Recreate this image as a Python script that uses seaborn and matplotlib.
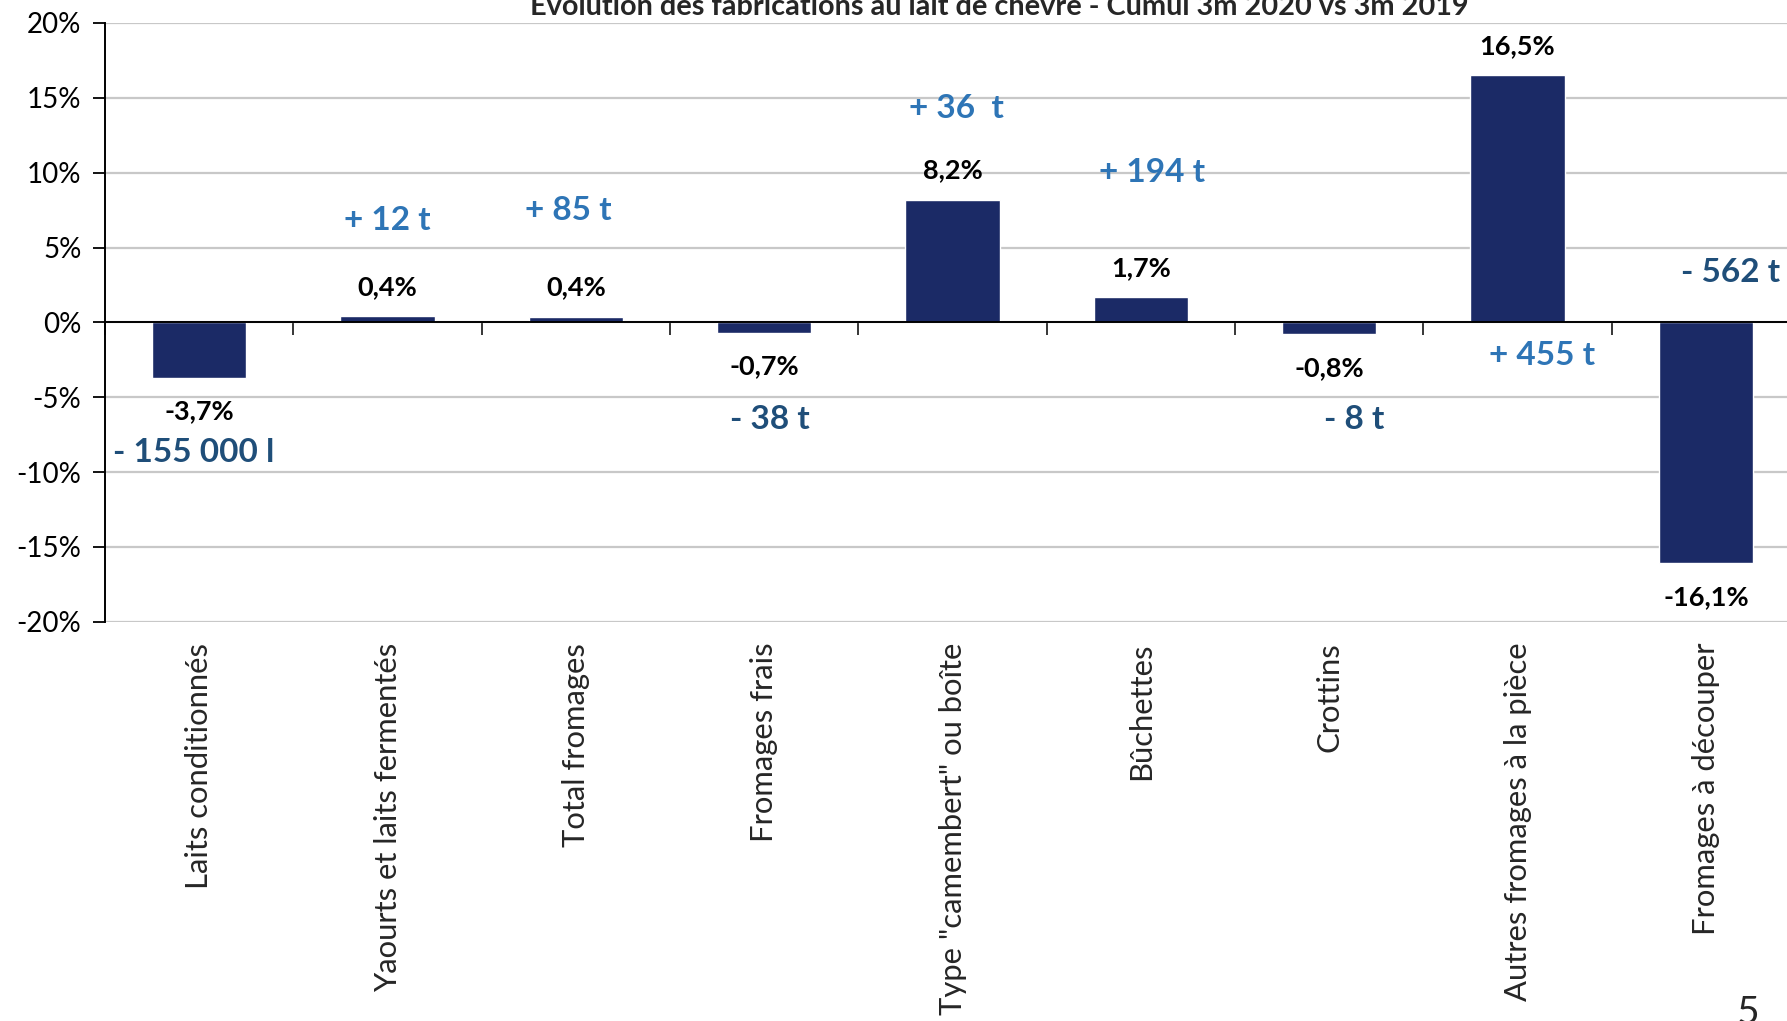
import pandas as pd
import matplotlib
matplotlib.use("Agg")
import matplotlib.pyplot as plt
import seaborn as sns

# data
categories = [
    "Laits conditionnés",
    "Yaourts et laits fermentés",
    "Total fromages",
    "Fromages frais",
    'Type "camembert" ou boîte',
    "Bûchettes",
    "Crottins",
    "Autres fromages à la pièce",
    "Fromages à découper",
]
evolution_pct = [-3.7, 0.42, 0.38, -0.7, 8.2, 1.7, -0.8, 16.5, -16.1]
volume_labels = ["- 155 000 l", "+ 12 t", "+ 85 t", "- 38 t", "+ 36  t",
                 "+ 194 t", "- 8 t", "+ 455 t", "- 562 t"]
y_ticks = [-20, -15, -10, -5, 0, 5, 10, 15, 20]

# where the volume call-outs sit (data coords), kept apart from the values
volume_x_shift = [-0.03, 0.0, -0.04, 0.03, 0.02, 0.06, 0.13, 0.13, 0.13]
volume_y = [-8.7, 6.8, 7.5, -6.5, 14.3, 10.0, -6.5, -2.2, 3.3]

BAR = "#1B2A66"
LIGHT = "#2E75B6"
DARK = "#1F4E79"

sns.set_style("white")
plt.rcParams["font.family"] = ["Lato", "DejaVu Sans"]

df = pd.DataFrame({"cat": categories, "pct": evolution_pct})

fig = plt.figure(figsize=(17.87, 10.21), dpi=100)
ax = fig.add_axes([0.0588, 0.391, 0.9485, 0.5865])

sns.barplot(data=df, x="cat", y="pct", color=BAR, width=0.5,
            saturation=1, ax=ax)

ax.set_ylim(-20, 20)
ax.set_xlim(-0.5, len(categories) - 0.5)
ax.set_yticks(y_ticks)
ax.set_yticklabels([f"{v}%" for v in y_ticks], fontsize=20)
ax.yaxis.grid(True, color="#C8C8C8", linewidth=1.6)
ax.set_axisbelow(True)
ax.set_xlabel("")
ax.set_ylabel("")

for s in ["top", "right"]:
    ax.spines[s].set_visible(False)
ax.spines["left"].set_color("black")
ax.spines["left"].set_linewidth(1.4)
ax.spines["bottom"].set_position(("data", 0))
ax.spines["bottom"].set_color("black")
ax.spines["bottom"].set_linewidth(1.4)

ax.tick_params(axis="y", direction="out", length=9, width=1.3, pad=8,
               left=True, colors="black")
ax.set_xticks([i - 0.5 for i in range(len(categories) + 1)])
ax.set_xticklabels([])
ax.tick_params(axis="x", direction="out", length=9, width=1.3, bottom=True)

# category names below the plot
for i, name in enumerate(categories):
    ax.text(i, -0.035, name, transform=ax.get_xaxis_transform(),
            rotation=90, ha="center", va="top", fontsize=22.3)

# percentage labels
for i, v in enumerate(evolution_pct):
    txt = f"{v:.1f}%".replace(".", ",")
    off = 21 if v >= 0 else -24
    ax.annotate(txt, (i, v), xytext=(0, off), textcoords="offset points",
                ha="center", va="center", fontsize=19.5, fontweight="bold",
                color="black")

# volume call-outs
for i, lab in enumerate(volume_labels):
    col = LIGHT if lab.startswith("+") else DARK
    ax.text(i + volume_x_shift[i], volume_y[i], lab, ha="center",
            va="center", fontsize=24, fontweight="bold", color=col)

fig.text(0.559, 0.985, "Evolution des fabrications au lait de chèvre - Cumul 3m 2020 vs 3m 2019",
         ha="center", va="baseline", fontsize=20.8, fontweight="bold")
fig.text(0.978, -0.003, "5", ha="center", va="baseline", fontsize=28)

fig.savefig("out.png", dpi=100)
